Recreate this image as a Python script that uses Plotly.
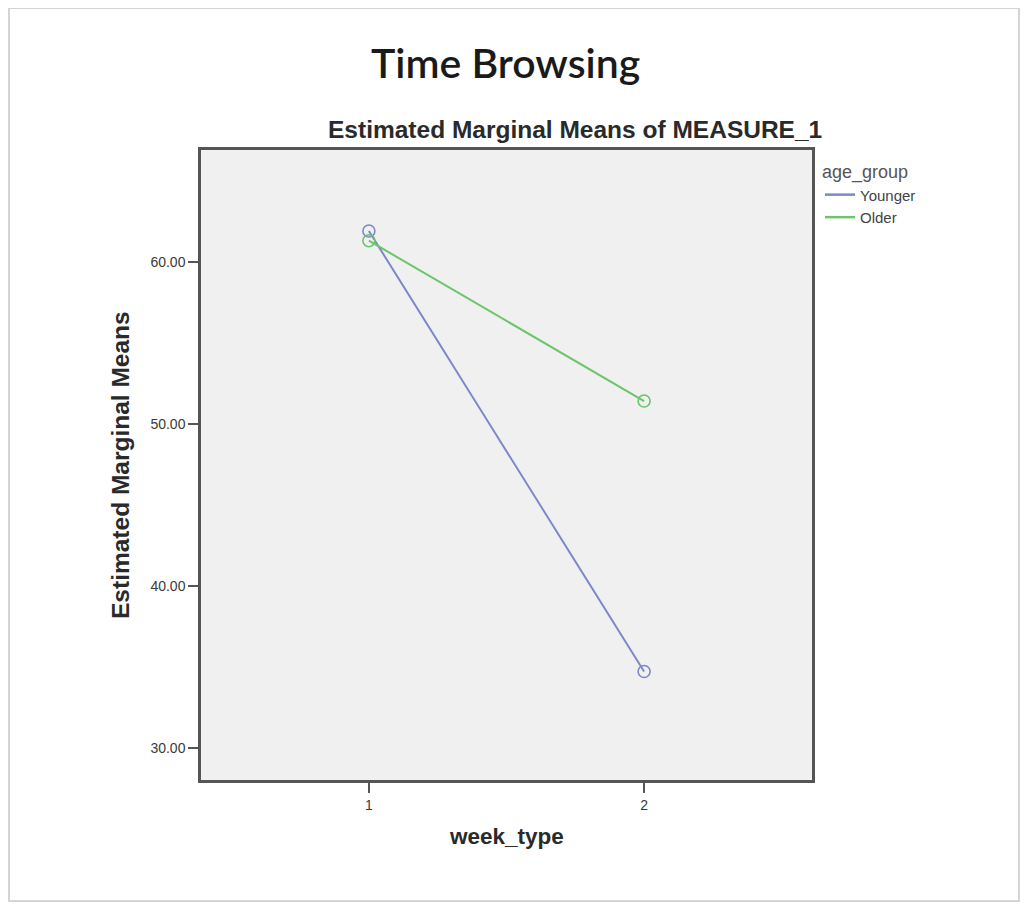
import plotly.graph_objects as go

week_type = [1, 2]
younger = [61.9, 34.7]
older = [61.3, 51.4]
y_ticks = [30, 40, 50, 60]
y_tick_labels = ["30.00", "40.00", "50.00", "60.00"]
x_ticks = [1, 2]
x_tick_labels = ["1", "2"]

c_young = "#7d88c9"
c_old = "#6cc46c"

# plot area in screen pixels (page has an 8px body margin)
PL, PT, PW, PH = 201, 150, 611, 630


def px(sx):
    return (sx - PL) / PW


def py(sy):
    return (PT + PH - sy) / PH


fig = go.Figure()
for name, vals, col in [("Younger", younger, c_young), ("Older", older, c_old)]:
    fig.add_trace(go.Scatter(
        x=week_type, y=vals, mode="lines+markers", name=name, showlegend=False,
        line=dict(color=col, width=2),
        marker=dict(symbol="circle-open", size=12, color=col, line=dict(width=1.6, color=col)),
    ))
    fig.add_trace(go.Scatter(
        x=[None], y=[None], mode="lines", name=name,
        line=dict(color=col, width=2.5),
    ))

fig.update_layout(
    width=1028, height=906,
    margin=dict(l=PL - 8, r=1028 - (PL - 8) - PW, t=PT - 8, b=906 - (PT - 8) - PH),
    paper_bgcolor="white",
    plot_bgcolor="#f0f0f0",
    font=dict(family="Arial, Liberation Sans, sans-serif", color="#444"),
    xaxis=dict(
        range=[0.39, 2.61], tickvals=x_ticks, ticktext=x_tick_labels,
        showgrid=False, zeroline=False,
        showline=True, linecolor="#555", linewidth=2.5, mirror=True,
        ticks="outside", ticklen=10, tickcolor="#555", tickwidth=1.5,
        tickfont=dict(size=14, color="#3a3a3a"),
    ),
    yaxis=dict(
        range=[28.0, 66.9], tickvals=y_ticks, ticktext=y_tick_labels,
        showgrid=False, zeroline=False,
        showline=True, linecolor="#555", linewidth=2.5, mirror=True,
        ticks="outside", ticklen=10, tickcolor="#555", tickwidth=1.5,
        tickfont=dict(size=14, color="#3a3a3a"),
    ),
    legend=dict(
        title=dict(text="age_group", font=dict(size=18, color="#555")),
        x=px(820), xanchor="left", y=py(155), yanchor="top",
        bgcolor="rgba(0,0,0,0)", itemwidth=30,
        font=dict(size=15, color="#444"), tracegroupgap=0,
    ),
    showlegend=True,
)

fig.add_annotation(
    text="Time Browsing", xref="paper", yref="paper", x=px(505), y=py(62),
    xanchor="center", yanchor="middle", showarrow=False,
    font=dict(family="Lato, Open Sans, sans-serif", size=41, color="#1a1a1a", weight=600),
)
fig.add_annotation(
    text="<b>Estimated Marginal Means of MEASURE_1</b>", xref="paper", yref="paper",
    x=px(575), y=py(130), xanchor="center", yanchor="middle", showarrow=False,
    font=dict(size=24.5, color="#2a2a2a"),
)
fig.add_annotation(
    text="<b>week_type</b>", xref="paper", yref="paper",
    x=px(506), y=py(837), xanchor="center", yanchor="middle", showarrow=False,
    font=dict(size=22.5, color="#2a2a2a"),
)
fig.add_annotation(
    text="<b>Estimated Marginal Means</b>", xref="paper", yref="paper",
    x=px(120), y=py(465), xanchor="center", yanchor="middle", showarrow=False,
    textangle=-90, font=dict(size=24.5, color="#2a2a2a"),
)
# slide card border
fig.add_shape(type="rect", xref="paper", yref="paper",
              x0=px(9), x1=px(1019), y0=py(901), y1=py(8),
              line=dict(color="#d4d4d4", width=2), layer="below")

fig.write_html("out.html")
